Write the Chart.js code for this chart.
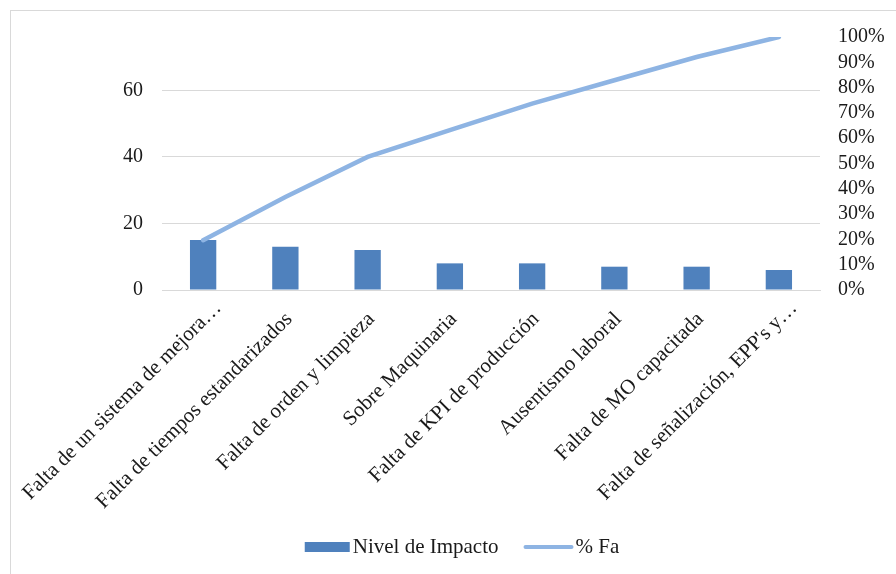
<!DOCTYPE html>
<html>
<head>
<meta charset="utf-8">
<script src="https://cdn.jsdelivr.net/npm/chart.js@4/dist/chart.umd.min.js"></script>
<style>
  html, body { margin: 0; padding: 0; background: #ffffff; }
  #wrap { position: relative; width: 896px; height: 574px; overflow: hidden; }
  #frame { position: absolute; left: 10px; top: 10px; width: 960px; height: 640px; border: 1px solid #d9d9d9; box-sizing: border-box; }
  canvas { position: absolute; left: 0; top: 0; }
</style>
</head>
<body>
<div id="wrap">
  <div id="frame"></div>
  <canvas id="c" width="896" height="574"></canvas>
</div>
<script>
// Causes and their impact level
const categories = [
  "Falta de un sistema de mejora…",
  "Falta de tiempos estandarizados",
  "Falta de orden y limpieza",
  "Sobre Maquinaria",
  "Falta de KPI de producción",
  "Ausentismo laboral",
  "Falta de MO capacitada",
  "Falta de señalización, EPP's y…"
];
const impactLevel = [15, 13, 12, 8, 8, 7, 7, 6];
// Cumulative frequency (%)
const cumulativePct = [19.7, 36.8, 52.6, 63.2, 73.7, 82.9, 92.1, 100];
// Tick values
const leftTicks = [0, 20, 40, 60];
const rightTicks = [0, 10, 20, 30, 40, 50, 60, 70, 80, 90, 100];
const leftMax = 76;

const serif = "'Liberation Serif', 'Times New Roman', serif";
const textColor = '#1a1a1a';

// Legend drawn below the axis labels: filled box for bars, stroke for the line
const bottomLegend = {
  id: 'bottomLegend',
  afterDraw(chart) {
    const ctx = chart.ctx;
    const bar = chart.data.datasets.find(d => d.type === 'bar');
    const line = chart.data.datasets.find(d => d.type === 'line');
    ctx.save();
    ctx.font = '21px ' + serif;
    ctx.fillStyle = textColor;
    ctx.textBaseline = 'alphabetic';
    ctx.textAlign = 'left';
    const w1 = ctx.measureText(bar.label).width;
    const w2 = ctx.measureText(line.label).width;
    const total = 45 + 3 + w1 + 25 + 50 + 2 + w2;
    let x = 462 - total / 2;
    const cy = 547;
    ctx.fillStyle = bar.backgroundColor;
    ctx.fillRect(x, cy - 5, 45, 10);
    x += 48;
    ctx.fillStyle = textColor;
    ctx.fillText(bar.label, x, cy + 6);
    x += w1 + 25;
    ctx.strokeStyle = line.borderColor;
    ctx.lineWidth = 4;
    ctx.lineCap = 'round';
    ctx.beginPath();
    ctx.moveTo(x + 2, cy);
    ctx.lineTo(x + 48, cy);
    ctx.stroke();
    x += 52;
    ctx.fillText(line.label, x, cy + 6);
    ctx.restore();
  }
};

new Chart(document.getElementById('c'), {
  data: {
    labels: categories,
    datasets: [
      {
        type: 'line',
        label: '% Fa',
        data: cumulativePct,
        yAxisID: 'y1',
        borderColor: '#8EB4E3',
        backgroundColor: '#8EB4E3',
        borderWidth: 4.5,
        pointRadius: 0,
        tension: 0,
        borderCapStyle: 'round',
        order: 0
      },
      {
        type: 'bar',
        label: 'Nivel de Impacto',
        data: impactLevel,
        yAxisID: 'y',
        backgroundColor: '#4F81BD',
        borderWidth: 0,
        categoryPercentage: 1,
        barPercentage: 0.32,
        order: 1
      }
    ]
  },
  plugins: [bottomLegend],
  options: {
    responsive: false,
    animation: false,
    layout: { padding: { top: 37, bottom: 58, left: 0, right: 0 } },
    plugins: {
      tooltip: { enabled: false },
      legend: { display: false }
    },
    scales: {
      x: {
        grid: { display: false, drawTicks: false },
        border: { display: true, color: '#d9d9d9', width: 1 },
        ticks: {
          color: textColor,
          font: { family: serif, size: 21 },
          minRotation: 45,
          maxRotation: 45,
          autoSkip: false,
          labelOffset: 15,
          padding: 6,
          // full-length labels sit a little further back along the slant than clipped ones
          callback(v, i) {
            const t = categories[i];
            return t.endsWith('…') ? t : t + '   ';
          }
        },
        afterFit(s) {
          s.height = 226;
          s.paddingLeft = 0;
          s.paddingRight = 0;
        }
      },
      y: {
        position: 'left',
        min: 0,
        max: leftMax,
        afterBuildTicks(s) { s.ticks = leftTicks.map(v => ({ value: v })); },
        grid: { color: '#d9d9d9', lineWidth: 1, drawTicks: false },
        border: { display: false },
        ticks: {
          color: textColor,
          font: { family: serif, size: 20 },
          autoSkip: false,
          padding: 19
        },
        afterFit(s) { s.width = 162; }
      },
      y1: {
        position: 'right',
        min: 0,
        max: 100,
        afterBuildTicks(s) { s.ticks = rightTicks.map(v => ({ value: v })); },
        grid: { display: false, drawTicks: false },
        border: { display: false },
        ticks: {
          color: textColor,
          font: { family: serif, size: 20 },
          autoSkip: false,
          padding: 18,
          callback: v => v + '%'
        },
        afterFit(s) { s.width = 76; }
      }
    }
  }
});
</script>
</body>
</html>
